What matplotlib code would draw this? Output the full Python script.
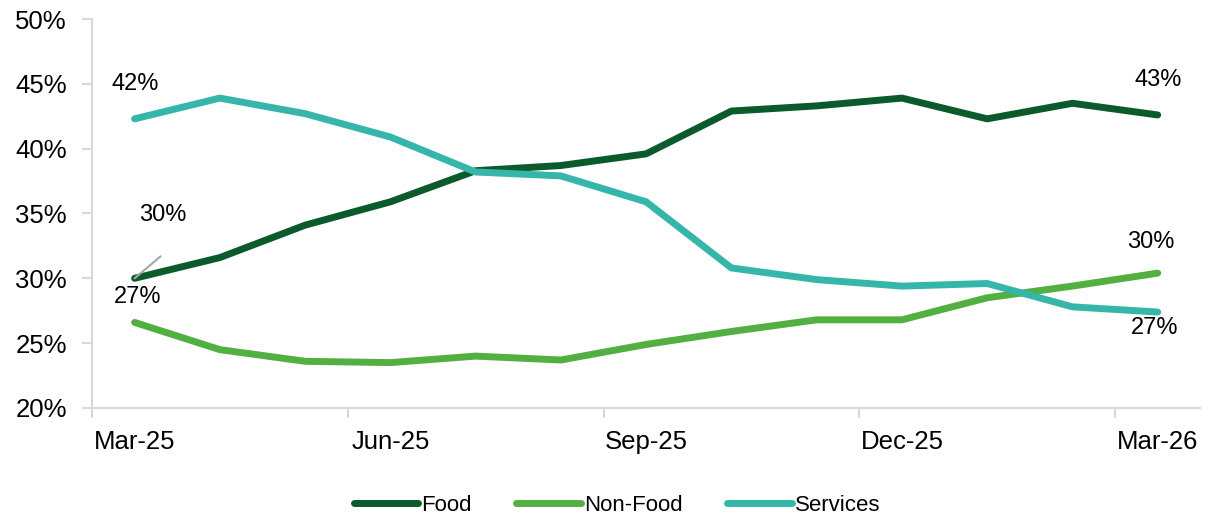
import matplotlib.pyplot as plt
import numpy as np

plt.rcParams['font.family'] = ['Liberation Sans', 'DejaVu Sans']

# Monthly share of spend (%)
months = ['Mar-25', 'Apr-25', 'May-25', 'Jun-25', 'Jul-25', 'Aug-25', 'Sep-25',
          'Oct-25', 'Nov-25', 'Dec-25', 'Jan-26', 'Feb-26', 'Mar-26']
food = [30.0, 31.6, 34.1, 35.9, 38.3, 38.7, 39.6, 42.9, 43.3, 43.9, 42.3, 43.5, 42.6]
non_food = [26.6, 24.5, 23.6, 23.5, 24.0, 23.7, 24.9, 25.9, 26.8, 26.8, 28.5, 29.4, 30.4]
services = [42.3, 43.9, 42.7, 40.9, 38.2, 37.9, 35.9, 30.8, 29.9, 29.4, 29.6, 27.8, 27.4]

c_food = '#0B5A2C'
c_nonfood = '#52B043'
c_serv = '#36B6AB'
grey = '#D9D9D9'

fig = plt.figure(figsize=(12.1, 5.18), dpi=100)
ax = fig.add_axes([0.076, 0.2124, 0.916, 0.7509])

x = np.arange(len(months))
ax.plot(x, food, color=c_food, lw=5, solid_capstyle='round', label='Food')
ax.plot(x, non_food, color=c_nonfood, lw=5, solid_capstyle='round', label='Non-Food')
ax.plot(x, services, color=c_serv, lw=5, solid_capstyle='round', label='Services')

ax.set_xlim(-0.5, len(months) - 0.5)
ax.set_ylim(20, 50)
ax.set_yticks(np.arange(20, 51, 5))
ax.set_yticklabels([f'{v}%' for v in range(20, 51, 5)])

# category labels every quarter, ticks on category boundaries
ax.set_xticks(x[::3])
ax.set_xticklabels(months[::3])
ax.set_xticks(np.arange(-0.5, len(months) - 0.5, 3), minor=True)
ax.tick_params(axis='x', which='major', length=0, pad=16, labelsize=18.5)
ax.tick_params(axis='x', which='minor', length=7, width=1.5, color=grey)
ax.tick_params(axis='y', length=7, width=1.5, color=grey, labelsize=18.5, pad=11)

for s in ['top', 'right']:
    ax.spines[s].set_visible(False)
for s in ['left', 'bottom']:
    ax.spines[s].set_color(grey)
    ax.spines[s].set_linewidth(1.5)

fs = 17


def lab(xi, val, dx, dy):
    ax.annotate(f'{val:.0f}%', xy=(xi, val), xytext=(dx, dy),
                textcoords='offset pixels', ha='center', va='center', fontsize=fs)


last = len(months) - 1
lab(0, services[0], 1, 35)
lab(0, non_food[0], 3, 25)
lab(0, food[0], 28, 63)
ax.annotate('', xy=(0, food[0]), xytext=(26, 22), textcoords='offset pixels',
            arrowprops=dict(arrowstyle='-', color='#A6A6A6', lw=1.5,
                            shrinkA=0, shrinkB=0))
lab(last, food[last], 0, 35)
lab(last, non_food[last], -7, 31)
lab(last, services[last], -3, -16)

fig.legend(loc='lower center', bbox_to_anchor=(0.51, -0.035), ncol=3, frameon=False,
           fontsize=16, handlelength=2.9, handletextpad=0.15, columnspacing=2.0)

fig.savefig('out.png', dpi=100)
